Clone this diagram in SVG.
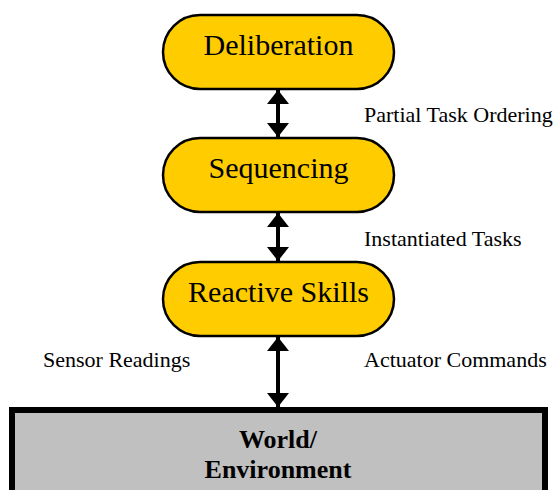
<svg xmlns="http://www.w3.org/2000/svg" width="560" height="490" viewBox="0 0 560 490">
  <style>
    .pill { fill: #FFCC00; stroke: #000; stroke-width: 2.5; }
    .pill-text { font-family: "Liberation Serif", "Times New Roman", serif; font-size: 30px; fill: #000; text-anchor: middle; }
    .label { font-family: "Liberation Serif", "Times New Roman", serif; font-size: 22px; fill: #000; }
    .world { fill: #C0C0C0; stroke: #000; stroke-width: 6; }
    .world-text { font-family: "Liberation Serif", "Times New Roman", serif; font-size: 26px; font-weight: bold; fill: #000; text-anchor: middle; }
    .link { stroke: #000; stroke-width: 4; fill: none; marker-start: url(#head); marker-end: url(#head); }
  </style>
  <defs>
    <marker id="head" viewBox="0 0 14 22" refX="14" refY="11" markerWidth="14" markerHeight="22" markerUnits="userSpaceOnUse" orient="auto-start-reverse">
      <path d="M0,0 L14,11 L0,22 Z" fill="#000"/>
    </marker>
  </defs>

  <!-- connectors -->
  <g id="connectors">
    <line class="link" x1="278" y1="90" x2="278" y2="137"/>
    <line class="link" x1="278" y1="213" x2="278" y2="261"/>
    <line class="link" x1="278" y1="337" x2="278" y2="407"/>
  </g>

  <g id="deliberation">
    <rect class="pill" x="163" y="15" width="231" height="74" rx="37" ry="37"/>
    <text class="pill-text" x="278.5" y="55">Deliberation</text>
  </g>

  <g id="sequencing">
    <rect class="pill" x="163" y="138" width="231" height="74" rx="37" ry="37"/>
    <text class="pill-text" x="278.5" y="178">Sequencing</text>
  </g>

  <g id="reactive-skills">
    <rect class="pill" x="163" y="262" width="231" height="74" rx="37" ry="37"/>
    <text class="pill-text" x="278.5" y="302">Reactive Skills</text>
  </g>

  <g id="world">
    <rect class="world" x="12" y="410" width="533" height="90"/>
    <text class="world-text" x="278" y="448">World/</text>
    <text class="world-text" x="278" y="478">Environment</text>
  </g>

  <g id="labels">
    <text class="label" x="364" y="122">Partial Task Ordering</text>
    <text class="label" x="364" y="246">Instantiated Tasks</text>
    <text class="label" x="43" y="367">Sensor Readings</text>
    <text class="label" x="364" y="367">Actuator Commands</text>
  </g>
</svg>
